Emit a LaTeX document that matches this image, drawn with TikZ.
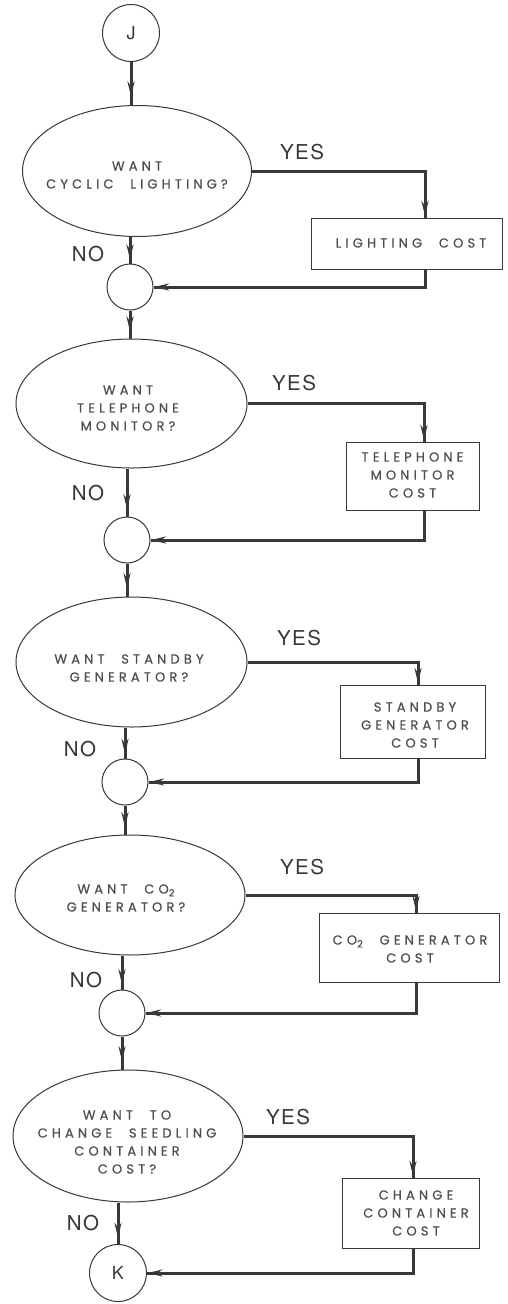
\documentclass[tikz,border=0pt]{standalone}
\usepackage{fontspec}
\usetikzlibrary{shapes.geometric,arrows.meta,decorations.markings}
\newfontfamily\letterfont{Poppins}[LetterSpace=32,WordSpace=2.2,FakeBold=0.6]
\newfontfamily\answerfont{TeX Gyre Heros}[LetterSpace=7]
\definecolor{ink}{HTML}{383838}
\definecolor{pencil}{HTML}{4E4E4E}
\newcommand{\cotwo}{CO\raisebox{-0.4ex}{\fontsize{10}{10}\selectfont 2}}

\begin{document}
\begin{tikzpicture}[x=1pt,y=-1pt,
  outline/.style={draw=ink, line width=1pt},
  question/.style={outline, ellipse, inner sep=0pt},
  costbox/.style={outline, rectangle, inner sep=0pt},
  junction/.style={outline, circle, minimum size=46pt, inner sep=0pt},
  terminal/.style={outline, circle, minimum size=57pt, inner sep=0pt,
    font=\answerfont\fontsize{18}{18}\selectfont, text=ink},
  lettering/.style={align=center, inner sep=0pt, text=pencil,
    font=\letterfont\fontsize{13}{18}\selectfont},
  answer/.style={inner sep=0pt, text=ink, font=\answerfont\fontsize{20.5}{20.5}\selectfont},
  flow/.style={draw=ink, line width=3pt},
  headat/.style={postaction={decorate, decoration={markings,
    mark=at position #1 with {\arrow[ink]{Stealth[length=15pt,width=7pt]}}}}}
]
\useasboundingbox[fill=white] (0,0) rectangle (508,1304);

% ---- column of decisions and junctions ----
\node[terminal] (j) at (131,33) {J};

\node[question, minimum width=229pt, minimum height=131pt] (e1) at (137,171) {};
\node[lettering] (q1) at (137,175) {WANT\\CYCLIC LIGHTING?};
\node[junction] (c1) at (130,287) {};

\node[question, minimum width=231pt, minimum height=129pt] (e2) at (131.5,403.5) {};
\node[lettering] (q2) at (128,408) {WANT\\TELEPHONE\\MONITOR?};
\node[junction] (c2) at (127,540) {};

\node[question, minimum width=231pt, minimum height=130pt] (e3) at (131.5,662) {};
\node[lettering] (q3) at (129,668) {WANT STANDBY\\GENERATOR?};
\node[junction] (c3) at (125,782) {};

\node[question, minimum width=230pt, minimum height=120pt] (e4) at (130,895) {};
\node[lettering] (q4) at (126,898) {WANT \cotwo\\GENERATOR?};
\node[junction] (c4) at (122,1013) {};

\node[question, minimum width=230pt, minimum height=132pt] (e5) at (128,1136) {};
\node[lettering] (q5) at (127,1142) {WANT TO\\CHANGE SEEDLING\\CONTAINER\\COST?};
\node[terminal] (k) at (118,1273) {K};

% ---- cost boxes ----
\node[costbox, minimum width=191pt, minimum height=51pt] (b1) at (406.5,243.5) {};
\node[lettering] (t1) at (411,243) {LIGHTING COST};
\node[costbox, minimum width=133pt, minimum height=68pt] (b2) at (412.5,476) {};
\node[lettering] (t2) at (412.5,475) {TELEPHONE\\MONITOR\\COST};
\node[costbox, minimum width=145pt, minimum height=73pt] (b3) at (412.5,721.5) {};
\node[lettering] (t3) at (415,725) {STANDBY\\GENERATOR\\COST};
\node[costbox, minimum width=180pt, minimum height=69pt] (b4) at (409,947.5) {};
\node[lettering] (t4) at (410,949) {\cotwo{} GENERATOR\\COST};
\node[costbox, minimum width=137pt, minimum height=70pt] (b5) at (410.5,1213) {};
\node[lettering] (t5) at (416,1213) {CHANGE\\CONTAINER\\COST};

% drop lines of the YES branches
\coordinate (d1) at (425,240);
\coordinate (d2) at (424,470);
\coordinate (d3) at (418,720);
\coordinate (d4) at (416,945);
\coordinate (d5) at (413,1210);

% ---- answers ----
\node[answer] (y1) at (302,152) {YES};
\node[answer] (y2) at (294,383) {YES};
\node[answer] (y3) at (299,638) {YES};
\node[answer] (y4) at (302,867) {YES};
\node[answer] (y5) at (288,1117) {YES};
\node[answer] (n1) at (88,254) {NO};
\node[answer] (n2) at (88,493) {NO};
\node[answer] (n3) at (80,749) {NO};
\node[answer] (n4) at (86,980) {NO};
\node[answer] (n5) at (83,1223) {NO};

% ---- main flow ----
\draw[flow, headat=0.8] (j.south) -- (j.south |- e1.north);
\foreach \e/\c in {e1/c1, e2/c2, e3/c3, e4/c4, e5/k}
  \draw[flow, headat=0.85] (\c.north |- \e.south) -- (\c.north);
\foreach \c/\e in {c1/e2, c2/e3, c3/e4, c4/e5}
  \draw[flow, headat=0.75] (\c.south) -- (\c.south |- \e.north);

% ---- YES branches and returns ----
\foreach \e/\d/\b/\c in {e1/d1/b1/c1, e2/d2/b2/c2, e3/d3/b3/c3, e4/d4/b4/c4, e5/d5/b5/k} {
  \draw[flow, headat=-1.5pt] (\e.east) -| (\d |- \b.north);
  \draw[flow, headat=-0.5pt] (\d |- \b.south) |- (\c.east);
}
\end{tikzpicture}
\end{document}
